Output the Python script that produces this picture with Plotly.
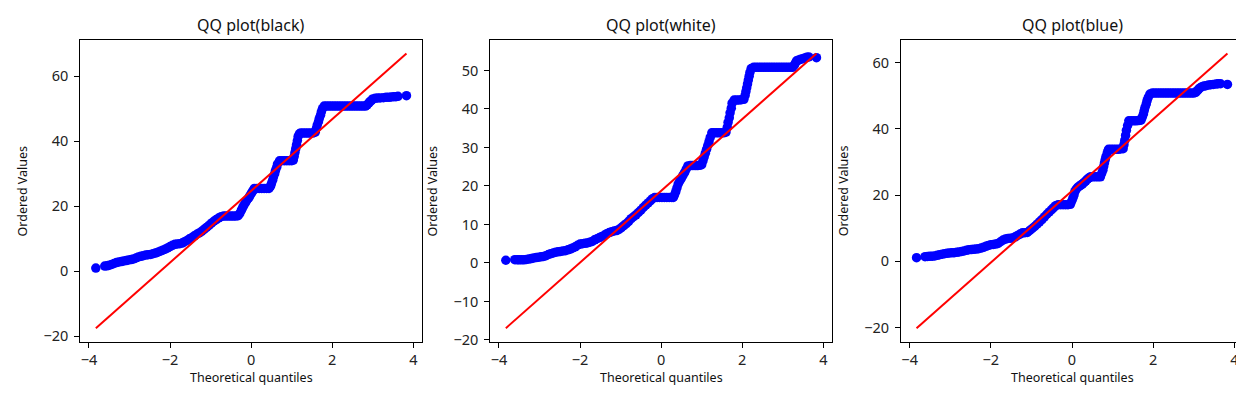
import plotly.graph_objects as go

# ---------------- data ----------------
titles = ["QQ plot(black)", "QQ plot(white)", "QQ plot(blue)"]

# theoretical quantiles / ordered values
q_black = [-3.83, -3.61, -3.55, -3.50, -3.44, -3.38, -3.32, -3.26, -3.20, -3.14, -3.08, -3.02,
           -2.96, -2.90, -2.84, -2.78, -2.72, -2.66, -2.60, -2.54, -2.48, -2.42, -2.36, -2.30,
           -2.24, -2.18, -2.12, -2.06, -2.00, -1.94, -1.88, -1.82, -1.76, -1.70, -1.64, -1.58,
           -1.52, -1.46, -1.40, -1.34, -1.28, -1.22, -1.16, -1.10, -1.04, -0.98, -0.92, -0.86,
           -0.80, -0.74, -0.68, -0.62, -0.56, -0.50, -0.44, -0.38, -0.32, -0.28, -0.24, -0.21,
           -0.18, -0.14, -0.11, -0.07, -0.04, -0.01, 0.02, 0.05, 0.08, 0.14, 0.20, 0.26,
           0.32, 0.38, 0.44, 0.48, 0.50, 0.53, 0.55, 0.58, 0.60, 0.63, 0.65, 0.70,
           0.76, 0.82, 0.88, 0.94, 1.00, 1.04, 1.06, 1.08, 1.10, 1.12, 1.14, 1.16,
           1.19, 1.22, 1.28, 1.34, 1.40, 1.46, 1.52, 1.58, 1.61, 1.63, 1.66, 1.68,
           1.71, 1.73, 1.76, 1.80, 1.86, 1.92, 1.98, 2.04, 2.10, 2.16, 2.22, 2.28,
           2.34, 2.40, 2.46, 2.52, 2.58, 2.64, 2.70, 2.76, 2.82, 2.86, 2.90, 2.93,
           2.97, 3.00, 3.06, 3.12, 3.18, 3.26, 3.33, 3.40, 3.46, 3.52, 3.57, 3.62, 3.83]
v_black = [1.0, 1.6, 1.7, 1.9, 2.1, 2.4, 2.7, 2.9, 3.0, 3.2, 3.3, 3.5,
           3.6, 3.8, 4.1, 4.4, 4.6, 4.8, 5.0, 5.1, 5.2, 5.4, 5.6, 5.9,
           6.2, 6.5, 6.8, 7.2, 7.6, 8.0, 8.3, 8.4, 8.5, 8.7, 9.1, 9.5,
           10.0, 10.4, 10.9, 11.4, 11.8, 12.3, 12.9, 13.5, 14.1, 14.8, 15.4, 15.9,
           16.4, 16.8, 17.0, 17.0, 17.0, 17.0, 17.0, 17.0, 17.1, 17.8, 18.8, 19.6,
           20.3, 21.1, 21.8, 22.4, 23.0, 23.7, 24.3, 24.9, 25.5, 25.5, 25.5, 25.5,
           25.5, 25.5, 25.5, 26.2, 27.0, 28.0, 29.0, 30.0, 31.0, 32.0, 33.0, 34.0,
           34.0, 34.0, 34.0, 34.0, 34.0, 34.2, 35.3, 36.5, 37.7, 39.0, 40.2, 41.5,
           42.3, 42.5, 42.5, 42.5, 42.5, 42.5, 42.5, 42.8, 44.0, 45.0, 46.0, 47.0,
           48.0, 49.0, 50.0, 50.8, 50.8, 50.8, 50.8, 50.8, 50.8, 50.8, 50.8, 50.8,
           50.8, 50.8, 50.8, 50.8, 50.8, 50.8, 50.8, 50.8, 50.8, 51.2, 51.7, 52.2,
           52.6, 53.0, 53.2, 53.3, 53.3, 53.4, 53.5, 53.5, 53.6, 53.7, 53.7, 53.8, 54.0]

q_white = [-3.83, -3.61, -3.55, -3.50, -3.44, -3.38, -3.32, -3.26, -3.20, -3.14, -3.08, -3.02,
           -2.96, -2.90, -2.84, -2.78, -2.72, -2.66, -2.60, -2.54, -2.48, -2.42, -2.36, -2.30,
           -2.24, -2.18, -2.12, -2.06, -2.00, -1.94, -1.88, -1.82, -1.76, -1.70, -1.64, -1.58,
           -1.52, -1.46, -1.40, -1.34, -1.28, -1.22, -1.16, -1.10, -1.04, -0.98, -0.92, -0.86,
           -0.80, -0.74, -0.68, -0.62, -0.56, -0.50, -0.44, -0.38, -0.32, -0.26, -0.21, -0.16,
           -0.10, -0.04, 0.02, 0.08, 0.14, 0.20, 0.26, 0.30, 0.33, 0.36, 0.39, 0.42,
           0.46, 0.50, 0.54, 0.58, 0.62, 0.66, 0.72, 0.78, 0.84, 0.90, 0.96, 1.00,
           1.03, 1.06, 1.09, 1.12, 1.15, 1.18, 1.21, 1.25, 1.30, 1.36, 1.42, 1.48,
           1.54, 1.60, 1.63, 1.65, 1.68, 1.70, 1.73, 1.75, 1.80, 1.86, 1.92, 1.98,
           2.04, 2.07, 2.09, 2.11, 2.13, 2.15, 2.17, 2.19, 2.22, 2.28, 2.34, 2.40,
           2.46, 2.52, 2.58, 2.64, 2.70, 2.76, 2.82, 2.88, 2.94, 3.00, 3.06, 3.12,
           3.18, 3.24, 3.28, 3.31, 3.34, 3.39, 3.44, 3.49, 3.54, 3.59, 3.64, 3.83]
v_white = [0.7, 0.85, 0.8, 0.8, 0.8, 0.8, 0.9, 1.0, 1.15, 1.3, 1.4, 1.5,
           1.6, 1.7, 1.9, 2.2, 2.4, 2.6, 2.8, 2.9, 3.0, 3.1, 3.2, 3.4,
           3.6, 3.9, 4.2, 4.6, 4.9, 5.0, 5.1, 5.2, 5.4, 5.6, 6.0, 6.3,
           6.6, 6.9, 7.2, 7.6, 7.9, 8.1, 8.3, 8.4, 8.7, 9.2, 9.7, 10.2,
           10.8, 11.5, 12.0, 12.5, 13.1, 13.7, 14.4, 15.0, 15.6, 16.2, 16.7, 17.0,
           17.0, 17.0, 17.0, 17.0, 17.0, 17.0, 17.0, 17.0, 17.7, 18.5, 19.5, 20.5,
           21.3, 22.0, 22.8, 23.5, 24.4, 25.2, 25.3, 25.3, 25.3, 25.3, 25.4, 25.5,
           26.5, 27.5, 28.5, 29.5, 30.5, 31.5, 32.6, 33.8, 33.8, 33.8, 33.8, 33.8,
           33.8, 34.0, 35.2, 36.5, 37.7, 39.0, 40.2, 41.5, 42.3, 42.3, 42.3, 42.4,
           42.5, 43.5, 44.5, 45.5, 46.5, 47.5, 48.5, 49.5, 50.5, 50.8, 50.8, 50.8,
           50.8, 50.8, 50.8, 50.8, 50.8, 50.8, 50.8, 50.8, 50.8, 50.8, 50.8, 50.8,
           50.8, 50.8, 51.3, 51.9, 52.5, 52.7, 52.9, 53.0, 53.2, 53.4, 53.5, 53.3]

q_blue = [-3.83, -3.62, -3.56, -3.50, -3.44, -3.38, -3.32, -3.26, -3.20, -3.14, -3.08, -3.02,
          -2.96, -2.90, -2.84, -2.78, -2.72, -2.66, -2.60, -2.54, -2.48, -2.42, -2.36, -2.30,
          -2.24, -2.18, -2.12, -2.06, -2.00, -1.94, -1.88, -1.82, -1.76, -1.70, -1.64, -1.58,
          -1.52, -1.46, -1.40, -1.34, -1.28, -1.22, -1.16, -1.10, -1.04, -0.98, -0.92, -0.86,
          -0.80, -0.74, -0.68, -0.62, -0.56, -0.50, -0.45, -0.40, -0.34, -0.28, -0.22, -0.16,
          -0.10, -0.04, -0.01, 0.02, 0.05, 0.07, 0.10, 0.14, 0.18, 0.22, 0.26, 0.30,
          0.34, 0.38, 0.42, 0.46, 0.52, 0.58, 0.64, 0.70, 0.73, 0.76, 0.78, 0.80,
          0.82, 0.84, 0.87, 0.90, 0.96, 1.02, 1.08, 1.14, 1.20, 1.26, 1.28, 1.30,
          1.32, 1.34, 1.37, 1.40, 1.46, 1.52, 1.58, 1.64, 1.70, 1.73, 1.76, 1.78,
          1.80, 1.83, 1.85, 1.88, 1.92, 1.98, 2.04, 2.10, 2.16, 2.22, 2.28, 2.34,
          2.40, 2.46, 2.52, 2.58, 2.64, 2.70, 2.76, 2.82, 2.88, 2.94, 3.00, 3.05,
          3.09, 3.12, 3.16, 3.20, 3.25, 3.30, 3.36, 3.42, 3.48, 3.55, 3.60, 3.66, 3.83]
v_blue = [1.1, 1.4, 1.45, 1.5, 1.55, 1.6, 1.8, 2.0, 2.15, 2.3, 2.4, 2.5,
          2.55, 2.6, 2.7, 2.8, 2.95, 3.1, 3.3, 3.5, 3.55, 3.6, 3.7, 3.8,
          4.0, 4.2, 4.5, 4.8, 5.0, 5.1, 5.2, 5.4, 5.9, 6.4, 6.7, 6.9,
          6.95, 7.0, 7.4, 7.8, 8.2, 8.6, 8.65, 8.7, 9.3, 9.9, 10.5, 11.2,
          11.9, 12.6, 13.4, 14.2, 14.9, 15.6, 16.2, 16.8, 17.1, 17.1, 17.1, 17.1,
          17.1, 17.2, 18.1, 19.0, 20.0, 21.0, 21.7, 22.3, 22.7, 23.0, 23.4, 23.8,
          24.3, 24.8, 25.2, 25.5, 25.5, 25.5, 25.5, 25.5, 26.5, 27.5, 28.6, 29.7,
          30.7, 31.7, 32.8, 33.8, 33.8, 33.8, 33.8, 33.8, 33.9, 34.0, 35.2, 36.5,
          38.0, 39.5, 41.0, 42.4, 42.4, 42.4, 42.4, 42.5, 42.6, 43.5, 44.5, 45.5,
          46.5, 47.5, 48.5, 49.5, 50.5, 50.8, 50.8, 50.8, 50.8, 50.8, 50.8, 50.8,
          50.8, 50.8, 50.8, 50.8, 50.8, 50.8, 50.8, 50.8, 50.8, 50.8, 50.8, 51.0,
          51.5, 52.0, 52.4, 52.7, 52.9, 53.0, 53.2, 53.3, 53.4, 53.5, 53.6, 53.6, 53.4]

# least-squares fit lines (slope, intercept)
fit_slopes = [11.03, 9.315, 10.83]
fit_intercepts = [24.75, 18.73, 21.27]

x_tickvals = [-4, -2, 0, 2, 4]
y_tickvals = [[-20, 0, 20, 40, 60],
              [-20, -10, 0, 10, 20, 30, 40, 50],
              [-20, 0, 20, 40, 60]]

# ---------------- layout geometry (pixels) ----------------
W, H = 1244, 393
panel_x = [(72.3, 414.0), (482.3, 824.0), (893.0, 1235.0)]
panel_top, panel_bottom = 32.3, 340.0

FONT = "Noto Sans"


def label(v):
    return ("\u2212" + str(abs(v))) if v < 0 else str(v)


fig = go.Figure()
series = [(q_black, v_black), (q_white, v_white), (q_blue, v_blue)]
annotations = []
for i, (q, v) in enumerate(series):
    n = i + 1
    xa = "x" if n == 1 else f"x{n}"
    ya = "y" if n == 1 else f"y{n}"
    fig.add_trace(go.Scatter(x=q, y=v, mode="markers",
                             marker=dict(color="#0000ff", size=9.5, line=dict(width=0)),
                             xaxis=xa, yaxis=ya, showlegend=False, hoverinfo="skip"))
    qmin, qmax = min(q), max(q)
    lx = [qmin, qmax]
    ly = [fit_intercepts[i] + fit_slopes[i] * qmin, fit_intercepts[i] + fit_slopes[i] * qmax]
    fig.add_trace(go.Scatter(x=lx, y=ly, mode="lines",
                             line=dict(color="#ff0000", width=2),
                             xaxis=xa, yaxis=ya, showlegend=False, hoverinfo="skip"))

    xpad = (qmax - qmin) * 0.05
    ymin = min(min(v), min(ly)); ymax = max(max(v), max(ly))
    ypad = (ymax - ymin) * 0.05
    x0, x1 = panel_x[i]
    common = dict(showline=True, linecolor="black", linewidth=1, mirror=True,
                  ticks="outside", ticklen=5, tickwidth=1, tickcolor="black",
                  showgrid=False, zeroline=False,
                  tickfont=dict(family=FONT, size=14.5, color="#222222"))
    fig.layout[f"xaxis{'' if n == 1 else n}"] = dict(
        domain=[x0 / W, x1 / W], anchor=ya, range=[qmin - xpad, qmax + xpad], ticklabelstandoff=0,
        tickmode="array", tickvals=x_tickvals, ticktext=[label(t) for t in x_tickvals], **common)
    fig.layout[f"yaxis{'' if n == 1 else n}"] = dict(
        domain=[1 - panel_bottom / H, 1 - panel_top / H], anchor=xa, range=[ymin - ypad, ymax + ypad],
        ticklabelstandoff=3,
        tickmode="array", tickvals=y_tickvals[i], ticktext=[label(t) for t in y_tickvals[i]], **common)

    cx = (x0 + x1) / 2 / W
    annotations.append(dict(text=titles[i], x=cx, y=1 - 17 / H, xref="paper", yref="paper",
                            xanchor="center", yanchor="middle", showarrow=False,
                            font=dict(family=FONT, size=16, color="#111111")))
    annotations.append(dict(text="Theoretical quantiles", x=cx, y=1 - 376 / H, xref="paper", yref="paper",
                            xanchor="center", yanchor="middle", showarrow=False,
                            font=dict(family=FONT, size=12.5, color="#111111")))
    annotations.append(dict(text="Ordered Values", x=(x0 - 57.5) / W, y=1 - 186 / H, xref="paper", yref="paper",
                            xanchor="center", yanchor="middle", showarrow=False, textangle=-90,
                            font=dict(family=FONT, size=12.5, color="#111111")))

fig.update_layout(width=W, height=H, margin=dict(l=0, r=0, t=0, b=0),
                  paper_bgcolor="white", plot_bgcolor="white", annotations=annotations)

fig.write_html("out.html")
